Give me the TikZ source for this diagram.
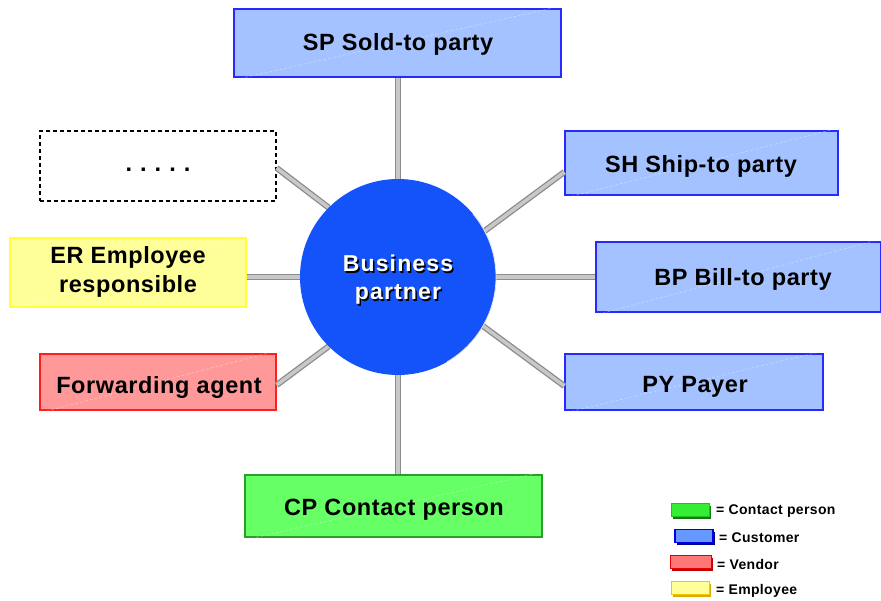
\documentclass[tikz,border=0pt]{standalone}
\usepackage{fontspec}
\setmainfont{Liberation Sans}
\newfontfamily\boxfont[LetterSpace=2.5]{Liberation Sans}
\newfontfamily\bpfont[LetterSpace=5]{Liberation Sans}
\definecolor{custfill}{RGB}{164,194,255}
\definecolor{custdraw}{RGB}{40,40,255}
\definecolor{empfill}{RGB}{255,255,153}
\definecolor{empdraw}{RGB}{255,255,60}
\definecolor{venfill}{RGB}{255,153,153}
\definecolor{vendraw}{RGB}{255,30,30}
\definecolor{cpfill}{RGB}{102,255,102}
\definecolor{cpdraw}{RGB}{40,160,40}
\definecolor{bpblue}{RGB}{20,82,250}
\definecolor{connout}{RGB}{140,140,140}
\definecolor{connin}{RGB}{200,200,200}
\definecolor{lgGf}{RGB}{51,238,51}
\definecolor{lgGd}{RGB}{34,190,34}
\definecolor{lgGs}{RGB}{20,120,20}
\definecolor{lgBf}{RGB}{102,153,255}
\definecolor{lgBd}{RGB}{0,0,230}
\definecolor{lgBs}{RGB}{0,0,150}
\definecolor{lgRf}{RGB}{255,119,119}
\definecolor{lgRd}{RGB}{230,0,0}
\definecolor{lgRs}{RGB}{190,0,0}
\definecolor{lgYf}{RGB}{255,255,153}
\definecolor{lgYd}{RGB}{240,200,0}
\definecolor{lgYs}{RGB}{220,170,0}
\begin{document}
\begin{tikzpicture}[x=1pt,y=-1pt,
  box/.style={draw, line width=1.3pt, inner sep=0pt, align=center},
  cust/.style={box, draw=custdraw, fill=custfill},
  emp/.style={box, draw=empdraw, fill=empfill},
  ven/.style={box, draw=vendraw, fill=venfill},
  cpb/.style={box, draw=cpdraw, fill=cpfill},
  lbl/.style={inner sep=0pt, align=center, font=\boxfont\fontsize{23.5}{29}\selectfont\bfseries},
  conn/.style={draw=connout, double=connin, double distance=3.5pt, line width=1.3pt},
  hl/.style={draw=white, opacity=0.45, line width=0.5pt, dash pattern=on 3pt off 2pt},
  swatch/.style={minimum width=38pt, minimum height=13pt, inner sep=0pt, line width=1.5pt},
  legtext/.style={anchor=west, inner sep=0pt, font=\boxfont\fontsize{14}{16}\selectfont\bfseries}
]
\useasboundingbox (0,0) rectangle (881,601);

% nodes
\node[circle, minimum size=196pt, inner sep=0pt] (bp) at (398,277) {};
\node[cust, minimum width=327pt, minimum height=68pt] (sp) at (397.5,43) {};
\node[draw, dash pattern=on 4pt off 3pt, line width=1.3pt, minimum width=236pt, minimum height=70pt, inner sep=0pt] (dots) at (158,166) {};
\node[cust, minimum width=273pt, minimum height=64pt] (sh) at (701.5,163) {};
\node[emp, minimum width=236pt, minimum height=69pt] (er) at (128,272.5) {};
\node[cust, minimum width=285pt, minimum height=70pt] (bill) at (738.5,277) {};
\node[ven, minimum width=236pt, minimum height=56pt] (fwd) at (158,382) {};
\node[cust, minimum width=258pt, minimum height=56pt] (py) at (694,382) {};
\node[cpb, minimum width=297pt, minimum height=62pt] (cp) at (393.5,506) {};

% highlights
\foreach \n in {sp,sh,er,bill,fwd,py,cp}
  \draw[hl] ([shift={(2pt,-2pt)}]\n.south west) -- ([shift={(-2pt,2pt)}]\n.north east);

% labels
\node[lbl] (spt) at (398,44) {SP Sold-to party};
\node[lbl] (dotst) at (158,170) {.\hspace{8pt}.\hspace{8pt}.\hspace{8pt}.\hspace{8pt}.};
\node[lbl] (sht) at (701,166) {SH Ship-to party};
\node[lbl] (ert) at (128,272) {ER Employee\\responsible};
\node[lbl] (billt) at (743,279) {BP Bill-to party};
\node[lbl] (fwdt) at (159,387) {Forwarding agent};
\node[lbl] (pyt) at (695,387) {PY Payer};
\node[lbl] (cpt) at (394,510) {CP Contact person};

% connectors (behind circle)
\draw[conn] (bp.north) -- (bp.north |- sp.south);
\draw[conn] (bp.135) -- ([yshift=-2pt]dots.east);
\draw[conn] (bp.28) -- ([yshift=-9pt]sh.west);
\draw[conn] (bp.west) -- (er.east |- bp.west);
\draw[conn] (bp.east) -- (bill.west);
\draw[conn] (bp.225) -- ([yshift=-3pt]fwd.east);
\draw[conn] (bp.-30) -- ([yshift=-4pt]py.west);
\draw[conn] (bp.south) -- (bp.south |- cp.north);

% central circle
\fill[bpblue] (bp.center) circle[radius=98pt];
\draw[white!80!gray, line width=0.8pt] (bp.center) ++(-60:98pt) arc[start angle=-60, end angle=40, radius=98pt];
\node[text=black, align=center, font=\bpfont\fontsize{23}{28}\selectfont\bfseries] (bpshadow) at ([shift={(1.5pt,-4.5pt)}]bp.center) {Business\\partner};
\node[text=white, align=center, font=\bpfont\fontsize{23}{28}\selectfont\bfseries] (bptext) at ([yshift=-3pt]bp.center) {Business\\partner};

% legend
\node[swatch, fill=lgGs] (lg1s) at (692,512) {};
\node[swatch, fill=lgGf, draw=lgGd] (lg1) at (690.5,510) {};
\node[legtext] (lg1t) at (716,511) {= Contact person};
\node[swatch, fill=lgBs] (lg2s) at (695.5,538) {};
\node[swatch, fill=lgBf, draw=lgBd] (lg2) at (694,536) {};
\node[legtext] (lg2t) at (719,538) {= Customer};
\node[swatch, minimum width=41pt, fill=lgRs] (lg3s) at (692.5,564) {};
\node[swatch, minimum width=41pt, fill=lgRf, draw=lgRd] (lg3) at (691,562) {};
\node[legtext] (lg3t) at (717,564) {= Vendor};
\node[swatch, fill=lgYs] (lg4s) at (692,590) {};
\node[swatch, fill=lgYf, draw=lgYd] (lg4) at (690.5,588) {};
\node[legtext] (lg4t) at (716,591) {= Employee};
\end{tikzpicture}
\end{document}
